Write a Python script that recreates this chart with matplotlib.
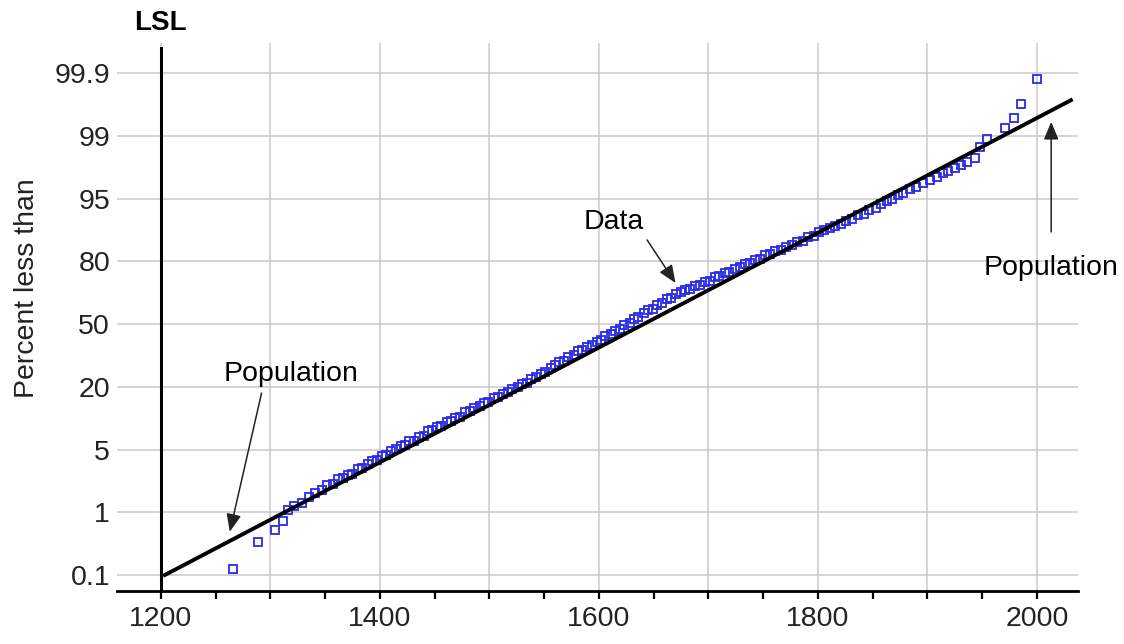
import numpy as np
import matplotlib
matplotlib.use('Agg')
import matplotlib.pyplot as plt
from matplotlib.ticker import MultipleLocator, FuncFormatter

plt.rcParams['font.family'] = ['Liberation Sans', 'DejaVu Sans']

# Probability axis: tick percents and their evenly spaced slots
pct_ticks = [0.1, 1, 5, 20, 50, 80, 95, 99, 99.9]
pct_labels = ['0.1', '1', '5', '20', '50', '80', '95', '99', '99.9']
pct_knots = [0, 0.1, 1, 5, 20, 50, 80, 95, 99, 99.9, 100]
slot_knots = [-1, 0, 1, 2, 3, 4, 5, 6, 7, 8, 9]

# Sample measurements and their cumulative percents
data_x = [1266, 1289, 1304, 1312,
          1316, 1322, 1329, 1335, 1341, 1347, 1352, 1357, 1362, 1366,
          1371, 1375, 1380, 1384, 1389, 1393, 1397, 1402, 1406, 1410,
          1415, 1419,
          1423, 1427, 1431, 1436, 1440, 1444, 1448, 1452, 1456, 1461,
          1465, 1469, 1473, 1478, 1482, 1486, 1491, 1495, 1499, 1504,
          1508, 1512, 1517, 1521, 1526, 1530,
          1534, 1538, 1543, 1547, 1551, 1556, 1560, 1564, 1568, 1572,
          1577, 1581, 1585, 1589, 1594, 1598, 1602, 1606, 1611, 1615,
          1619, 1623, 1628, 1632, 1636, 1641,
          1645, 1649, 1653, 1658, 1662, 1666, 1670, 1675, 1679, 1683,
          1688, 1692, 1697, 1701, 1706, 1710, 1715, 1719, 1724, 1729,
          1733, 1738, 1743, 1747,
          1752, 1756, 1761, 1766, 1771, 1776, 1781, 1786, 1791, 1796,
          1801, 1806, 1811, 1816, 1821, 1826, 1831, 1837, 1842, 1847,
          1853, 1858,
          1863, 1868, 1873, 1878, 1884, 1890, 1896, 1902,
          1909, 1914, 1919, 1925, 1931, 1936, 1943, 1948, 1954,
          1971, 1979, 1985, 2000]
data_pct = [0.19, 0.57, 0.74, 0.88,
            1.15, 1.41, 1.59, 1.97, 2.23, 2.40, 2.71, 2.81, 3.11, 3.18,
            3.40, 3.47, 3.77, 3.84, 4.06, 4.29, 4.31, 4.58, 4.64, 4.91,
            5.05, 5.75,
            6.00, 7.00, 7.10, 8.08, 8.18, 9.33, 9.58, 10.28, 10.53, 11.66,
            11.91, 12.61, 12.86, 13.85, 14.25, 14.95, 15.33, 16.03, 16.28, 17.27,
            17.51, 18.36, 18.75, 19.45, 19.84, 21.37,
            21.87, 23.56, 24.64, 26.04, 26.83, 28.81, 30.20, 31.90, 32.40, 34.10,
            35.17, 36.87, 37.37, 39.07, 39.84, 41.53, 42.33, 44.03, 45.10, 46.80,
            47.60, 49.60, 50.67, 52.37, 53.17, 55.14,
            56.54, 57.34, 59.03, 60.10, 61.80, 62.60, 64.30, 65.07, 66.47, 66.97,
            68.34, 68.84, 70.21, 70.71, 72.38, 72.88, 74.25, 75.05, 76.42, 77.20,
            78.59, 79.36, 80.37, 80.62,
            81.45, 81.70, 82.39, 82.78, 83.46, 83.85, 84.53, 84.92, 85.76, 86.14,
            86.98, 87.37, 87.90, 88.44, 88.82, 89.66, 90.05, 91.02, 91.41, 92.24,
            92.77, 93.60,
            94.29, 94.82, 95.22, 95.32, 95.58, 95.72, 95.98, 96.16,
            96.40, 96.60, 96.75, 96.95, 97.15, 97.30, 97.60, 98.30, 98.80,
            99.11, 99.25, 99.46, 99.81]

# Fitted population line (end points)
pop_x = [1203.7, 2031]
pop_pct = [0.1, 99.51]

lsl = 1200


def to_slot(p):
    return np.interp(p, pct_knots, slot_knots)


def from_slot(s):
    return np.interp(s, slot_knots, pct_knots)


fs = 20.5

fig = plt.figure(figsize=(11.24, 6.44), dpi=100)
ax = fig.add_axes([0.1041, 0.0823, 0.855, 0.8509])
ax.set_yscale('function', functions=(to_slot, from_slot))

ax.set_xlim(1160, 2037.5)
ax.set_ylim(from_slot(-0.255), from_slot(8.478))

ax.set_yticks(pct_ticks, pct_labels)
ax.yaxis.set_minor_locator(plt.NullLocator())
ax.xaxis.set_major_locator(MultipleLocator(100))
ax.xaxis.set_minor_locator(MultipleLocator(50))
ax.xaxis.set_major_formatter(FuncFormatter(lambda v, pos: '%d' % v if v % 200 == 0 else ''))

ax.grid(True, which='major', color='#c9c9c9', linewidth=1.1)
ax.set_axisbelow(True)

for side in ['left', 'top', 'right']:
    ax.spines[side].set_visible(False)
ax.spines['bottom'].set_linewidth(2)
ax.tick_params(axis='y', length=0, pad=5, labelsize=fs, labelcolor='#222222')
ax.tick_params(axis='x', which='both', direction='out', length=6, width=1.6,
               pad=5, labelsize=fs, labelcolor='#222222')

# lower spec limit
ax.axvline(lsl, ymin=0, ymax=0.991, color='black', linewidth=2.2, zorder=3)
ax.text(lsl, from_slot(8.8), 'LSL', ha='center', va='center', fontsize=20,
        fontweight='bold', clip_on=False)

ax.plot(data_x, data_pct, 's', mfc='none', mec='#2a2ae6', ms=6.4, mew=1.3, zorder=4)
ax.plot(pop_x, pop_pct, color='black', linewidth=2.8, zorder=5)

arrow = dict(arrowstyle='-|>,head_length=0.6,head_width=0.25', color='#222222',
             lw=1.1, mutation_scale=18, shrinkA=0, shrinkB=0)
ax.text(1319, 26, 'Population', fontsize=fs, ha='center', va='center')
ax.annotate('', xy=(1263, 0.72), xytext=(1292, 18.5), arrowprops=arrow)
ax.text(1614, 89.4, 'Data', fontsize=fs, ha='center', va='center')
ax.annotate('', xy=(1670, 69.6), xytext=(1644, 85.1), arrowprops=arrow)
ax.text(2013, 76.8, 'Population', fontsize=fs, ha='center', va='center',
        clip_on=False)
ax.annotate('', xy=(2013, 99.2), xytext=(2013, 87.0), arrowprops=arrow)

fig.text(27 / 1124, 1 - 288 / 644, 'Percent less than', rotation=90,
         ha='center', va='center', fontsize=fs, color='#222222')

fig.savefig('out.png', dpi=100)
plt.close()
